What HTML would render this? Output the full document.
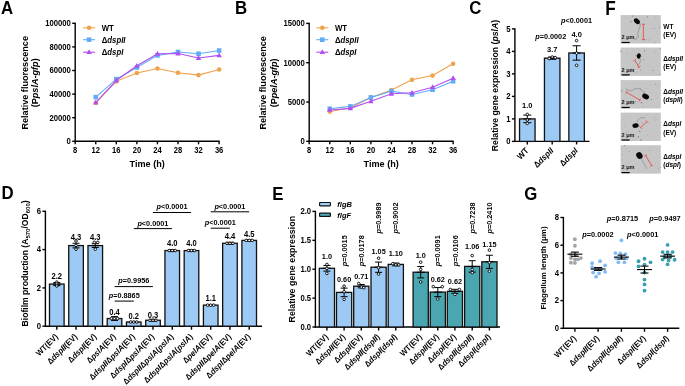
<!DOCTYPE html><html><head><meta charset="utf-8"><style>html,body{margin:0;padding:0;background:#fff;width:685px;height:386px;overflow:hidden}svg{display:block;filter:blur(0.35px)}text{font-family:"Liberation Sans",sans-serif}</style></head><body><svg width="685" height="386" viewBox="0 0 685 386" font-family="Liberation Sans, sans-serif" font-weight="bold">
<rect width="685" height="386" fill="#fff"/>
<line x1="75.20" y1="141.90" x2="75.20" y2="22.70" stroke="#000" stroke-width="1.4"/>
<line x1="74.60" y1="141.30" x2="219.72" y2="141.30" stroke="#000" stroke-width="1.4"/>
<line x1="72.20" y1="141.30" x2="75.20" y2="141.30" stroke="#000" stroke-width="1.4"/>
<text transform="translate(70.90 144.10) scale(1 1.08)" font-size="7.7" text-anchor="end" fill="#000">0</text>
<line x1="72.20" y1="117.70" x2="75.20" y2="117.70" stroke="#000" stroke-width="1.4"/>
<text transform="translate(70.90 120.50) scale(1 1.08)" font-size="7.7" text-anchor="end" fill="#000">20000</text>
<line x1="72.20" y1="94.10" x2="75.20" y2="94.10" stroke="#000" stroke-width="1.4"/>
<text transform="translate(70.90 96.90) scale(1 1.08)" font-size="7.7" text-anchor="end" fill="#000">40000</text>
<line x1="72.20" y1="70.50" x2="75.20" y2="70.50" stroke="#000" stroke-width="1.4"/>
<text transform="translate(70.90 73.30) scale(1 1.08)" font-size="7.7" text-anchor="end" fill="#000">60000</text>
<line x1="72.20" y1="46.90" x2="75.20" y2="46.90" stroke="#000" stroke-width="1.4"/>
<text transform="translate(70.90 49.70) scale(1 1.08)" font-size="7.7" text-anchor="end" fill="#000">80000</text>
<line x1="72.20" y1="23.30" x2="75.20" y2="23.30" stroke="#000" stroke-width="1.4"/>
<text transform="translate(70.90 26.10) scale(1 1.08)" font-size="7.7" text-anchor="end" fill="#000">100000</text>
<line x1="75.20" y1="141.30" x2="75.20" y2="144.30" stroke="#000" stroke-width="1.4"/>
<text transform="translate(75.20 153.20) scale(1 1.08)" font-size="7.6" text-anchor="middle" fill="#000">8</text>
<line x1="95.76" y1="141.30" x2="95.76" y2="144.30" stroke="#000" stroke-width="1.4"/>
<text transform="translate(95.76 153.20) scale(1 1.08)" font-size="7.6" text-anchor="middle" fill="#000">12</text>
<line x1="116.32" y1="141.30" x2="116.32" y2="144.30" stroke="#000" stroke-width="1.4"/>
<text transform="translate(116.32 153.20) scale(1 1.08)" font-size="7.6" text-anchor="middle" fill="#000">16</text>
<line x1="136.88" y1="141.30" x2="136.88" y2="144.30" stroke="#000" stroke-width="1.4"/>
<text transform="translate(136.88 153.20) scale(1 1.08)" font-size="7.6" text-anchor="middle" fill="#000">20</text>
<line x1="157.44" y1="141.30" x2="157.44" y2="144.30" stroke="#000" stroke-width="1.4"/>
<text transform="translate(157.44 153.20) scale(1 1.08)" font-size="7.6" text-anchor="middle" fill="#000">24</text>
<line x1="178.00" y1="141.30" x2="178.00" y2="144.30" stroke="#000" stroke-width="1.4"/>
<text transform="translate(178.00 153.20) scale(1 1.08)" font-size="7.6" text-anchor="middle" fill="#000">28</text>
<line x1="198.56" y1="141.30" x2="198.56" y2="144.30" stroke="#000" stroke-width="1.4"/>
<text transform="translate(198.56 153.20) scale(1 1.08)" font-size="7.6" text-anchor="middle" fill="#000">32</text>
<line x1="219.12" y1="141.30" x2="219.12" y2="144.30" stroke="#000" stroke-width="1.4"/>
<text transform="translate(219.12 153.20) scale(1 1.08)" font-size="7.6" text-anchor="middle" fill="#000">36</text>
<text transform="translate(147.16 166.60) scale(1 1.08)" font-size="9.1" text-anchor="middle" fill="#000">Time (h)</text>
<text transform="translate(1.00 13.60) scale(1 1.13)" font-size="16.8" text-anchor="start" fill="#000">A</text>
<text transform="translate(27.90 82.80) rotate(-90)" font-size="9.1" text-anchor="middle" fill="#000">Relative fluorescence</text>
<text transform="translate(38.20 82.80) rotate(-90)" font-size="9.1" text-anchor="middle" fill="#000">(P<tspan font-style="italic">pslA-gfp</tspan>)</text>
<polyline points="95.76,102.71 116.32,81.36 136.88,72.98 157.44,68.49 178.00,72.74 198.56,75.10 219.12,69.44" fill="none" stroke="#f0a14a" stroke-width="1.1"/>
<circle cx="95.76" cy="102.71" r="2.3" fill="#f0a14a"/>
<circle cx="116.32" cy="81.36" r="2.3" fill="#f0a14a"/>
<circle cx="136.88" cy="72.98" r="2.3" fill="#f0a14a"/>
<circle cx="157.44" cy="68.49" r="2.3" fill="#f0a14a"/>
<circle cx="178.00" cy="72.74" r="2.3" fill="#f0a14a"/>
<circle cx="198.56" cy="75.10" r="2.3" fill="#f0a14a"/>
<circle cx="219.12" cy="69.44" r="2.3" fill="#f0a14a"/>
<polyline points="95.76,97.17 116.32,79.11 136.88,67.55 157.44,55.40 178.00,51.97 198.56,53.74 219.12,50.56" fill="none" stroke="#63abf5" stroke-width="1.1"/>
<rect x="93.46" y="94.87" width="4.6" height="4.6" fill="#63abf5"/>
<rect x="114.02" y="76.81" width="4.6" height="4.6" fill="#63abf5"/>
<rect x="134.58" y="65.25" width="4.6" height="4.6" fill="#63abf5"/>
<rect x="155.14" y="53.10" width="4.6" height="4.6" fill="#63abf5"/>
<rect x="175.70" y="49.67" width="4.6" height="4.6" fill="#63abf5"/>
<rect x="196.26" y="51.44" width="4.6" height="4.6" fill="#63abf5"/>
<rect x="216.82" y="48.26" width="4.6" height="4.6" fill="#63abf5"/>
<polyline points="95.76,102.71 116.32,80.53 136.88,65.78 157.44,53.74 178.00,53.51 198.56,57.99 219.12,55.40" fill="none" stroke="#b14ff0" stroke-width="1.1"/>
<polygon points="95.76,99.81 98.46,104.61 93.06,104.61" fill="#b14ff0"/>
<polygon points="116.32,77.63 119.02,82.43 113.62,82.43" fill="#b14ff0"/>
<polygon points="136.88,62.88 139.58,67.68 134.18,67.68" fill="#b14ff0"/>
<polygon points="157.44,50.84 160.14,55.64 154.74,55.64" fill="#b14ff0"/>
<polygon points="178.00,50.61 180.70,55.41 175.30,55.41" fill="#b14ff0"/>
<polygon points="198.56,55.09 201.26,59.89 195.86,59.89" fill="#b14ff0"/>
<polygon points="219.12,52.50 221.82,57.30 216.42,57.30" fill="#b14ff0"/>
<line x1="83.10" y1="27.80" x2="95.10" y2="27.80" stroke="#f0a14a" stroke-width="1.1"/>
<circle cx="89.10" cy="27.80" r="2.3" fill="#f0a14a"/>
<text transform="translate(101.70 30.70) scale(1 1.08)" font-size="7.8" text-anchor="start" fill="#000">WT</text>
<line x1="83.10" y1="39.70" x2="95.10" y2="39.70" stroke="#63abf5" stroke-width="1.1"/>
<rect x="86.80" y="37.40" width="4.6" height="4.6" fill="#63abf5"/>
<text transform="translate(101.70 42.60) scale(1 1.08)" font-size="7.8" text-anchor="start" fill="#000">Δ<tspan font-style="italic">dspII</tspan></text>
<line x1="83.10" y1="52.20" x2="95.10" y2="52.20" stroke="#b14ff0" stroke-width="1.1"/>
<polygon points="89.10,49.30 91.80,54.10 86.40,54.10" fill="#b14ff0"/>
<text transform="translate(101.70 55.10) scale(1 1.08)" font-size="7.8" text-anchor="start" fill="#000">Δ<tspan font-style="italic">dspI</tspan></text>
<line x1="309.20" y1="141.90" x2="309.20" y2="22.80" stroke="#000" stroke-width="1.4"/>
<line x1="308.60" y1="141.30" x2="453.72" y2="141.30" stroke="#000" stroke-width="1.4"/>
<line x1="306.20" y1="141.30" x2="309.20" y2="141.30" stroke="#000" stroke-width="1.4"/>
<text transform="translate(304.90 144.10) scale(1 1.08)" font-size="7.7" text-anchor="end" fill="#000">0</text>
<line x1="306.20" y1="102.00" x2="309.20" y2="102.00" stroke="#000" stroke-width="1.4"/>
<text transform="translate(304.90 104.80) scale(1 1.08)" font-size="7.7" text-anchor="end" fill="#000">5000</text>
<line x1="306.20" y1="62.70" x2="309.20" y2="62.70" stroke="#000" stroke-width="1.4"/>
<text transform="translate(304.90 65.50) scale(1 1.08)" font-size="7.7" text-anchor="end" fill="#000">10000</text>
<line x1="306.20" y1="23.40" x2="309.20" y2="23.40" stroke="#000" stroke-width="1.4"/>
<text transform="translate(304.90 26.20) scale(1 1.08)" font-size="7.7" text-anchor="end" fill="#000">15000</text>
<line x1="309.20" y1="141.30" x2="309.20" y2="144.30" stroke="#000" stroke-width="1.4"/>
<text transform="translate(309.20 153.20) scale(1 1.08)" font-size="7.6" text-anchor="middle" fill="#000">8</text>
<line x1="329.76" y1="141.30" x2="329.76" y2="144.30" stroke="#000" stroke-width="1.4"/>
<text transform="translate(329.76 153.20) scale(1 1.08)" font-size="7.6" text-anchor="middle" fill="#000">12</text>
<line x1="350.32" y1="141.30" x2="350.32" y2="144.30" stroke="#000" stroke-width="1.4"/>
<text transform="translate(350.32 153.20) scale(1 1.08)" font-size="7.6" text-anchor="middle" fill="#000">16</text>
<line x1="370.88" y1="141.30" x2="370.88" y2="144.30" stroke="#000" stroke-width="1.4"/>
<text transform="translate(370.88 153.20) scale(1 1.08)" font-size="7.6" text-anchor="middle" fill="#000">20</text>
<line x1="391.44" y1="141.30" x2="391.44" y2="144.30" stroke="#000" stroke-width="1.4"/>
<text transform="translate(391.44 153.20) scale(1 1.08)" font-size="7.6" text-anchor="middle" fill="#000">24</text>
<line x1="412.00" y1="141.30" x2="412.00" y2="144.30" stroke="#000" stroke-width="1.4"/>
<text transform="translate(412.00 153.20) scale(1 1.08)" font-size="7.6" text-anchor="middle" fill="#000">28</text>
<line x1="432.56" y1="141.30" x2="432.56" y2="144.30" stroke="#000" stroke-width="1.4"/>
<text transform="translate(432.56 153.20) scale(1 1.08)" font-size="7.6" text-anchor="middle" fill="#000">32</text>
<line x1="453.12" y1="141.30" x2="453.12" y2="144.30" stroke="#000" stroke-width="1.4"/>
<text transform="translate(453.12 153.20) scale(1 1.08)" font-size="7.6" text-anchor="middle" fill="#000">36</text>
<text transform="translate(381.16 166.60) scale(1 1.08)" font-size="9.1" text-anchor="middle" fill="#000">Time (h)</text>
<text transform="translate(235.00 13.60) scale(1 1.13)" font-size="16.8" text-anchor="start" fill="#000">B</text>
<text transform="translate(266.30 82.85) rotate(-90)" font-size="9.1" text-anchor="middle" fill="#000">Relative fluorescence</text>
<text transform="translate(277.10 82.85) rotate(-90)" font-size="9.1" text-anchor="middle" fill="#000">(P<tspan font-style="italic">pelA-gfp</tspan>)</text>
<polyline points="329.76,111.58 350.32,108.04 370.88,97.43 391.44,89.97 412.00,79.83 432.56,75.58 453.12,63.79" fill="none" stroke="#f0a14a" stroke-width="1.1"/>
<circle cx="329.76" cy="111.58" r="2.3" fill="#f0a14a"/>
<circle cx="350.32" cy="108.04" r="2.3" fill="#f0a14a"/>
<circle cx="370.88" cy="97.43" r="2.3" fill="#f0a14a"/>
<circle cx="391.44" cy="89.97" r="2.3" fill="#f0a14a"/>
<circle cx="412.00" cy="79.83" r="2.3" fill="#f0a14a"/>
<circle cx="432.56" cy="75.58" r="2.3" fill="#f0a14a"/>
<circle cx="453.12" cy="63.79" r="2.3" fill="#f0a14a"/>
<polyline points="329.76,108.75 350.32,106.39 370.88,97.43 391.44,91.15 412.00,94.45 432.56,89.73 453.12,81.24" fill="none" stroke="#63abf5" stroke-width="1.1"/>
<rect x="327.46" y="106.45" width="4.6" height="4.6" fill="#63abf5"/>
<rect x="348.02" y="104.09" width="4.6" height="4.6" fill="#63abf5"/>
<rect x="368.58" y="95.13" width="4.6" height="4.6" fill="#63abf5"/>
<rect x="389.14" y="88.85" width="4.6" height="4.6" fill="#63abf5"/>
<rect x="409.70" y="92.15" width="4.6" height="4.6" fill="#63abf5"/>
<rect x="430.26" y="87.43" width="4.6" height="4.6" fill="#63abf5"/>
<rect x="450.82" y="78.94" width="4.6" height="4.6" fill="#63abf5"/>
<polyline points="329.76,109.93 350.32,108.36 370.88,101.29 391.44,93.74 412.00,92.80 432.56,87.22 453.12,78.18" fill="none" stroke="#b14ff0" stroke-width="1.1"/>
<polygon points="329.76,107.03 332.46,111.83 327.06,111.83" fill="#b14ff0"/>
<polygon points="350.32,105.46 353.02,110.26 347.62,110.26" fill="#b14ff0"/>
<polygon points="370.88,98.39 373.58,103.19 368.18,103.19" fill="#b14ff0"/>
<polygon points="391.44,90.84 394.14,95.64 388.74,95.64" fill="#b14ff0"/>
<polygon points="412.00,89.90 414.70,94.70 409.30,94.70" fill="#b14ff0"/>
<polygon points="432.56,84.32 435.26,89.12 429.86,89.12" fill="#b14ff0"/>
<polygon points="453.12,75.28 455.82,80.08 450.42,80.08" fill="#b14ff0"/>
<line x1="316.30" y1="27.80" x2="328.30" y2="27.80" stroke="#f0a14a" stroke-width="1.1"/>
<circle cx="322.30" cy="27.80" r="2.3" fill="#f0a14a"/>
<text transform="translate(334.90 30.70) scale(1 1.08)" font-size="7.8" text-anchor="start" fill="#000">WT</text>
<line x1="316.30" y1="39.70" x2="328.30" y2="39.70" stroke="#63abf5" stroke-width="1.1"/>
<rect x="320.00" y="37.40" width="4.6" height="4.6" fill="#63abf5"/>
<text transform="translate(334.90 42.60) scale(1 1.08)" font-size="7.8" text-anchor="start" fill="#000">Δ<tspan font-style="italic">dspII</tspan></text>
<line x1="316.30" y1="52.20" x2="328.30" y2="52.20" stroke="#b14ff0" stroke-width="1.1"/>
<polygon points="322.30,49.30 325.00,54.10 319.60,54.10" fill="#b14ff0"/>
<text transform="translate(334.90 55.10) scale(1 1.08)" font-size="7.8" text-anchor="start" fill="#000">Δ<tspan font-style="italic">dspI</tspan></text>
<line x1="514.90" y1="142.00" x2="514.90" y2="28.30" stroke="#000" stroke-width="1.4"/>
<line x1="514.30" y1="141.40" x2="589.50" y2="141.40" stroke="#000" stroke-width="1.4"/>
<line x1="511.90" y1="141.40" x2="514.90" y2="141.40" stroke="#000" stroke-width="1.4"/>
<text transform="translate(510.60 144.20) scale(1 1.08)" font-size="7.7" text-anchor="end" fill="#000">0</text>
<line x1="511.90" y1="118.90" x2="514.90" y2="118.90" stroke="#000" stroke-width="1.4"/>
<text transform="translate(510.60 121.70) scale(1 1.08)" font-size="7.7" text-anchor="end" fill="#000">1</text>
<line x1="511.90" y1="96.40" x2="514.90" y2="96.40" stroke="#000" stroke-width="1.4"/>
<text transform="translate(510.60 99.20) scale(1 1.08)" font-size="7.7" text-anchor="end" fill="#000">2</text>
<line x1="511.90" y1="73.90" x2="514.90" y2="73.90" stroke="#000" stroke-width="1.4"/>
<text transform="translate(510.60 76.70) scale(1 1.08)" font-size="7.7" text-anchor="end" fill="#000">3</text>
<line x1="511.90" y1="51.40" x2="514.90" y2="51.40" stroke="#000" stroke-width="1.4"/>
<text transform="translate(510.60 54.20) scale(1 1.08)" font-size="7.7" text-anchor="end" fill="#000">4</text>
<line x1="511.90" y1="28.90" x2="514.90" y2="28.90" stroke="#000" stroke-width="1.4"/>
<text transform="translate(510.60 31.70) scale(1 1.08)" font-size="7.7" text-anchor="end" fill="#000">5</text>
<text transform="translate(469.30 13.60) scale(1 1.13)" font-size="16.8" text-anchor="start" fill="#000">C</text>
<text transform="translate(497.60 85.50) rotate(-90)" font-size="8.7" text-anchor="middle" fill="#000">Relative gene expression (<tspan font-style="italic">pslA</tspan>)</text>
<rect x="519.55" y="118.90" width="15.50" height="22.50" fill="#9dc9f5" stroke="#111" stroke-width="1.3"/>
<line x1="527.30" y1="115.08" x2="527.30" y2="122.73" stroke="#000" stroke-width="1.0"/>
<line x1="523.30" y1="115.08" x2="531.30" y2="115.08" stroke="#000" stroke-width="1.0"/>
<line x1="523.30" y1="122.73" x2="531.30" y2="122.73" stroke="#000" stroke-width="1.0"/>
<line x1="523.30" y1="118.90" x2="531.30" y2="118.90" stroke="#000" stroke-width="1.0"/>
<circle cx="527.30" cy="114.40" r="1.3" fill="#fff" stroke="#000" stroke-width="0.9"/>
<circle cx="527.30" cy="120.03" r="1.3" fill="#fff" stroke="#000" stroke-width="0.9"/>
<circle cx="527.30" cy="123.40" r="1.3" fill="#fff" stroke="#000" stroke-width="0.9"/>
<line x1="527.30" y1="141.40" x2="527.30" y2="144.40" stroke="#000" stroke-width="1.4"/>
<text transform="translate(527.30 108.00) scale(1 1.08)" font-size="7.5" text-anchor="middle" fill="#000">1.0</text>
<rect x="544.45" y="58.15" width="15.50" height="83.25" fill="#9dc9f5" stroke="#111" stroke-width="1.3"/>
<line x1="552.20" y1="57.03" x2="552.20" y2="59.27" stroke="#000" stroke-width="1.0"/>
<line x1="548.20" y1="57.03" x2="556.20" y2="57.03" stroke="#000" stroke-width="1.0"/>
<line x1="548.20" y1="59.27" x2="556.20" y2="59.27" stroke="#000" stroke-width="1.0"/>
<line x1="548.20" y1="58.15" x2="556.20" y2="58.15" stroke="#000" stroke-width="1.0"/>
<circle cx="549.20" cy="58.60" r="1.3" fill="#fff" stroke="#000" stroke-width="0.9"/>
<circle cx="552.20" cy="57.03" r="1.3" fill="#fff" stroke="#000" stroke-width="0.9"/>
<circle cx="555.20" cy="57.70" r="1.3" fill="#fff" stroke="#000" stroke-width="0.9"/>
<line x1="552.20" y1="141.40" x2="552.20" y2="144.40" stroke="#000" stroke-width="1.4"/>
<text transform="translate(552.20 51.60) scale(1 1.08)" font-size="7.5" text-anchor="middle" fill="#000">3.7</text>
<rect x="568.85" y="52.98" width="15.50" height="88.42" fill="#9dc9f5" stroke="#111" stroke-width="1.3"/>
<line x1="576.60" y1="45.78" x2="576.60" y2="60.17" stroke="#000" stroke-width="1.0"/>
<line x1="572.60" y1="45.78" x2="580.60" y2="45.78" stroke="#000" stroke-width="1.0"/>
<line x1="572.60" y1="60.17" x2="580.60" y2="60.17" stroke="#000" stroke-width="1.0"/>
<line x1="572.60" y1="52.98" x2="580.60" y2="52.98" stroke="#000" stroke-width="1.0"/>
<circle cx="576.60" cy="40.60" r="1.3" fill="#fff" stroke="#000" stroke-width="0.9"/>
<circle cx="576.60" cy="53.20" r="1.3" fill="#fff" stroke="#000" stroke-width="0.9"/>
<circle cx="576.60" cy="65.35" r="1.3" fill="#fff" stroke="#000" stroke-width="0.9"/>
<line x1="576.60" y1="141.40" x2="576.60" y2="144.40" stroke="#000" stroke-width="1.4"/>
<text transform="translate(576.60 37.20) scale(1 1.08)" font-size="7.5" text-anchor="middle" fill="#000">4.0</text>
<text transform="translate(535.20 38.50) scale(1 1.08)" font-size="7.3" text-anchor="start" fill="#000"><tspan font-style="italic">p</tspan>=0.0002</text>
<text transform="translate(561.00 23.00) scale(1 1.08)" font-size="7.3" text-anchor="start" fill="#000"><tspan font-style="italic">p</tspan>&lt;0.0001</text>
<text transform="translate(529.10 151.20) rotate(-45) scale(1 1.08)" font-size="7.9" text-anchor="end" fill="#000">WT</text>
<text transform="translate(554.00 151.20) rotate(-45) scale(1 1.08)" font-size="7.9" text-anchor="end" fill="#000">Δ<tspan font-style="italic">dspII</tspan></text>
<text transform="translate(578.40 151.20) rotate(-45) scale(1 1.08)" font-size="7.9" text-anchor="end" fill="#000">Δ<tspan font-style="italic">dspI</tspan></text>
<line x1="45.40" y1="326.80" x2="45.40" y2="210.70" stroke="#000" stroke-width="1.4"/>
<line x1="44.80" y1="326.20" x2="262.00" y2="326.20" stroke="#000" stroke-width="1.4"/>
<line x1="42.40" y1="326.20" x2="45.40" y2="326.20" stroke="#000" stroke-width="1.4"/>
<text transform="translate(41.10 329.00) scale(1 1.08)" font-size="7.7" text-anchor="end" fill="#000">0</text>
<line x1="42.40" y1="287.90" x2="45.40" y2="287.90" stroke="#000" stroke-width="1.4"/>
<text transform="translate(41.10 290.70) scale(1 1.08)" font-size="7.7" text-anchor="end" fill="#000">2</text>
<line x1="42.40" y1="249.60" x2="45.40" y2="249.60" stroke="#000" stroke-width="1.4"/>
<text transform="translate(41.10 252.40) scale(1 1.08)" font-size="7.7" text-anchor="end" fill="#000">4</text>
<line x1="42.40" y1="211.30" x2="45.40" y2="211.30" stroke="#000" stroke-width="1.4"/>
<text transform="translate(41.10 214.10) scale(1 1.08)" font-size="7.7" text-anchor="end" fill="#000">6</text>
<text transform="translate(1.60 199.30) scale(1 1.13)" font-size="16.8" text-anchor="start" fill="#000">D</text>
<text transform="translate(27.60 263.40) rotate(-90)" font-size="8.6" text-anchor="middle" fill="#000">Biofilm production (A<tspan font-size="6" dy="2.2">570</tspan><tspan dy="-2.2">/OD</tspan><tspan font-size="6" dy="2.2">600</tspan><tspan dy="-2.2">)</tspan></text>
<rect x="49.50" y="284.07" width="14.60" height="42.13" fill="#9dc9f5" stroke="#111" stroke-width="1.3"/>
<line x1="56.80" y1="282.54" x2="56.80" y2="285.60" stroke="#000" stroke-width="1.0"/>
<line x1="53.30" y1="282.54" x2="60.30" y2="282.54" stroke="#000" stroke-width="1.0"/>
<line x1="53.30" y1="285.60" x2="60.30" y2="285.60" stroke="#000" stroke-width="1.0"/>
<line x1="52.80" y1="284.07" x2="60.80" y2="284.07" stroke="#000" stroke-width="1.0"/>
<circle cx="56.80" cy="282.15" r="1.3" fill="#fff" stroke="#000" stroke-width="0.9"/>
<circle cx="56.80" cy="284.07" r="1.3" fill="#fff" stroke="#000" stroke-width="0.9"/>
<circle cx="56.80" cy="285.99" r="1.3" fill="#fff" stroke="#000" stroke-width="0.9"/>
<line x1="56.80" y1="326.20" x2="56.80" y2="329.70" stroke="#000" stroke-width="1.4"/>
<text transform="translate(56.80 279.27) scale(1 1.08)" font-size="7.6" text-anchor="middle" fill="#000">2.2</text>
<text transform="translate(58.60 337.30) rotate(-45) scale(1 1.08)" font-size="7.7" text-anchor="end" fill="#000">WT(EV)</text>
<rect x="68.74" y="245.58" width="14.60" height="80.62" fill="#9dc9f5" stroke="#111" stroke-width="1.3"/>
<line x1="76.04" y1="243.28" x2="76.04" y2="247.88" stroke="#000" stroke-width="1.0"/>
<line x1="72.54" y1="243.28" x2="79.54" y2="243.28" stroke="#000" stroke-width="1.0"/>
<line x1="72.54" y1="247.88" x2="79.54" y2="247.88" stroke="#000" stroke-width="1.0"/>
<line x1="72.04" y1="245.58" x2="80.04" y2="245.58" stroke="#000" stroke-width="1.0"/>
<circle cx="76.04" cy="240.98" r="1.3" fill="#fff" stroke="#000" stroke-width="0.9"/>
<circle cx="76.04" cy="245.39" r="1.3" fill="#fff" stroke="#000" stroke-width="0.9"/>
<circle cx="76.04" cy="249.22" r="1.3" fill="#fff" stroke="#000" stroke-width="0.9"/>
<line x1="76.04" y1="326.20" x2="76.04" y2="329.70" stroke="#000" stroke-width="1.4"/>
<text transform="translate(76.04 239.88) scale(1 1.08)" font-size="7.6" text-anchor="middle" fill="#000">4.3</text>
<text transform="translate(77.84 337.30) rotate(-45) scale(1 1.08)" font-size="7.7" text-anchor="end" fill="#000">Δ<tspan font-style="italic">dspII</tspan>(EV)</text>
<rect x="87.98" y="245.58" width="14.60" height="80.62" fill="#9dc9f5" stroke="#111" stroke-width="1.3"/>
<line x1="95.28" y1="243.66" x2="95.28" y2="247.49" stroke="#000" stroke-width="1.0"/>
<line x1="91.78" y1="243.66" x2="98.78" y2="243.66" stroke="#000" stroke-width="1.0"/>
<line x1="91.78" y1="247.49" x2="98.78" y2="247.49" stroke="#000" stroke-width="1.0"/>
<line x1="91.28" y1="245.58" x2="99.28" y2="245.58" stroke="#000" stroke-width="1.0"/>
<circle cx="94.28" cy="242.32" r="1.3" fill="#fff" stroke="#000" stroke-width="0.9"/>
<circle cx="97.78" cy="242.32" r="1.3" fill="#fff" stroke="#000" stroke-width="0.9"/>
<circle cx="95.28" cy="249.22" r="1.3" fill="#fff" stroke="#000" stroke-width="0.9"/>
<line x1="95.28" y1="326.20" x2="95.28" y2="329.70" stroke="#000" stroke-width="1.4"/>
<text transform="translate(95.28 239.88) scale(1 1.08)" font-size="7.6" text-anchor="middle" fill="#000">4.3</text>
<text transform="translate(97.08 337.30) rotate(-45) scale(1 1.08)" font-size="7.7" text-anchor="end" fill="#000">Δ<tspan font-style="italic">dspI</tspan>(EV)</text>
<rect x="107.22" y="318.54" width="14.60" height="7.66" fill="#9dc9f5" stroke="#111" stroke-width="1.3"/>
<line x1="114.52" y1="316.62" x2="114.52" y2="320.45" stroke="#000" stroke-width="1.0"/>
<line x1="111.02" y1="316.62" x2="118.02" y2="316.62" stroke="#000" stroke-width="1.0"/>
<line x1="111.02" y1="320.45" x2="118.02" y2="320.45" stroke="#000" stroke-width="1.0"/>
<line x1="110.52" y1="318.54" x2="118.52" y2="318.54" stroke="#000" stroke-width="1.0"/>
<circle cx="111.52" cy="318.54" r="1.3" fill="#fff" stroke="#000" stroke-width="0.9"/>
<circle cx="114.52" cy="318.54" r="1.3" fill="#fff" stroke="#000" stroke-width="0.9"/>
<circle cx="117.52" cy="318.54" r="1.3" fill="#fff" stroke="#000" stroke-width="0.9"/>
<line x1="114.52" y1="326.20" x2="114.52" y2="329.70" stroke="#000" stroke-width="1.4"/>
<text transform="translate(114.52 314.84) scale(1 1.08)" font-size="7.6" text-anchor="middle" fill="#000">0.4</text>
<text transform="translate(116.32 337.30) rotate(-45) scale(1 1.08)" font-size="7.7" text-anchor="end" fill="#000">Δ<tspan font-style="italic">pslA</tspan>(EV)</text>
<rect x="126.46" y="321.99" width="14.60" height="4.21" fill="#9dc9f5" stroke="#111" stroke-width="1.3"/>
<line x1="133.76" y1="321.41" x2="133.76" y2="322.56" stroke="#000" stroke-width="1.0"/>
<line x1="130.26" y1="321.41" x2="137.26" y2="321.41" stroke="#000" stroke-width="1.0"/>
<line x1="130.26" y1="322.56" x2="137.26" y2="322.56" stroke="#000" stroke-width="1.0"/>
<line x1="129.76" y1="321.99" x2="137.76" y2="321.99" stroke="#000" stroke-width="1.0"/>
<circle cx="130.76" cy="321.99" r="1.3" fill="#fff" stroke="#000" stroke-width="0.9"/>
<circle cx="133.76" cy="321.99" r="1.3" fill="#fff" stroke="#000" stroke-width="0.9"/>
<circle cx="136.76" cy="321.99" r="1.3" fill="#fff" stroke="#000" stroke-width="0.9"/>
<line x1="133.76" y1="326.20" x2="133.76" y2="329.70" stroke="#000" stroke-width="1.4"/>
<text transform="translate(133.76 319.29) scale(1 1.08)" font-size="7.6" text-anchor="middle" fill="#000">0.2</text>
<text transform="translate(135.56 337.30) rotate(-45) scale(1 1.08)" font-size="7.7" text-anchor="end" fill="#000">Δ<tspan font-style="italic">dspII</tspan>Δ<tspan font-style="italic">pslA</tspan>(EV)</text>
<rect x="145.70" y="320.26" width="14.60" height="5.94" fill="#9dc9f5" stroke="#111" stroke-width="1.3"/>
<line x1="153.00" y1="319.31" x2="153.00" y2="321.22" stroke="#000" stroke-width="1.0"/>
<line x1="149.50" y1="319.31" x2="156.50" y2="319.31" stroke="#000" stroke-width="1.0"/>
<line x1="149.50" y1="321.22" x2="156.50" y2="321.22" stroke="#000" stroke-width="1.0"/>
<line x1="149.00" y1="320.26" x2="157.00" y2="320.26" stroke="#000" stroke-width="1.0"/>
<circle cx="150.00" cy="320.26" r="1.3" fill="#fff" stroke="#000" stroke-width="0.9"/>
<circle cx="153.00" cy="320.26" r="1.3" fill="#fff" stroke="#000" stroke-width="0.9"/>
<circle cx="156.00" cy="320.26" r="1.3" fill="#fff" stroke="#000" stroke-width="0.9"/>
<line x1="153.00" y1="326.20" x2="153.00" y2="329.70" stroke="#000" stroke-width="1.4"/>
<text transform="translate(153.00 317.86) scale(1 1.08)" font-size="7.6" text-anchor="middle" fill="#000">0.3</text>
<text transform="translate(154.80 337.30) rotate(-45) scale(1 1.08)" font-size="7.7" text-anchor="end" fill="#000">Δ<tspan font-style="italic">dspI</tspan>Δ<tspan font-style="italic">pslA</tspan>(EV)</text>
<rect x="164.94" y="250.56" width="14.60" height="75.64" fill="#9dc9f5" stroke="#111" stroke-width="1.3"/>
<line x1="172.24" y1="249.60" x2="172.24" y2="251.51" stroke="#000" stroke-width="1.0"/>
<line x1="168.74" y1="249.60" x2="175.74" y2="249.60" stroke="#000" stroke-width="1.0"/>
<line x1="168.74" y1="251.51" x2="175.74" y2="251.51" stroke="#000" stroke-width="1.0"/>
<line x1="168.24" y1="250.56" x2="176.24" y2="250.56" stroke="#000" stroke-width="1.0"/>
<circle cx="169.24" cy="250.56" r="1.3" fill="#fff" stroke="#000" stroke-width="0.9"/>
<circle cx="172.24" cy="250.56" r="1.3" fill="#fff" stroke="#000" stroke-width="0.9"/>
<circle cx="175.24" cy="250.56" r="1.3" fill="#fff" stroke="#000" stroke-width="0.9"/>
<line x1="172.24" y1="326.20" x2="172.24" y2="329.70" stroke="#000" stroke-width="1.4"/>
<text transform="translate(172.24 245.86) scale(1 1.08)" font-size="7.6" text-anchor="middle" fill="#000">4.0</text>
<text transform="translate(174.04 337.30) rotate(-45) scale(1 1.08)" font-size="7.7" text-anchor="end" fill="#000">Δ<tspan font-style="italic">dspII</tspan>Δ<tspan font-style="italic">pslA</tspan>(<tspan font-style="italic">pslA</tspan>)</text>
<rect x="184.18" y="250.56" width="14.60" height="75.64" fill="#9dc9f5" stroke="#111" stroke-width="1.3"/>
<line x1="191.48" y1="249.60" x2="191.48" y2="251.51" stroke="#000" stroke-width="1.0"/>
<line x1="187.98" y1="249.60" x2="194.98" y2="249.60" stroke="#000" stroke-width="1.0"/>
<line x1="187.98" y1="251.51" x2="194.98" y2="251.51" stroke="#000" stroke-width="1.0"/>
<line x1="187.48" y1="250.56" x2="195.48" y2="250.56" stroke="#000" stroke-width="1.0"/>
<circle cx="188.48" cy="250.56" r="1.3" fill="#fff" stroke="#000" stroke-width="0.9"/>
<circle cx="191.48" cy="250.56" r="1.3" fill="#fff" stroke="#000" stroke-width="0.9"/>
<circle cx="194.48" cy="250.56" r="1.3" fill="#fff" stroke="#000" stroke-width="0.9"/>
<line x1="191.48" y1="326.20" x2="191.48" y2="329.70" stroke="#000" stroke-width="1.4"/>
<text transform="translate(191.48 245.86) scale(1 1.08)" font-size="7.6" text-anchor="middle" fill="#000">4.0</text>
<text transform="translate(193.28 337.30) rotate(-45) scale(1 1.08)" font-size="7.7" text-anchor="end" fill="#000">Δ<tspan font-style="italic">dspI</tspan>Δ<tspan font-style="italic">pslA</tspan>(<tspan font-style="italic">pslA</tspan>)</text>
<rect x="203.42" y="305.13" width="14.60" height="21.06" fill="#9dc9f5" stroke="#111" stroke-width="1.3"/>
<line x1="210.72" y1="304.56" x2="210.72" y2="305.71" stroke="#000" stroke-width="1.0"/>
<line x1="207.22" y1="304.56" x2="214.22" y2="304.56" stroke="#000" stroke-width="1.0"/>
<line x1="207.22" y1="305.71" x2="214.22" y2="305.71" stroke="#000" stroke-width="1.0"/>
<line x1="206.72" y1="305.13" x2="214.72" y2="305.13" stroke="#000" stroke-width="1.0"/>
<circle cx="207.72" cy="305.13" r="1.3" fill="#fff" stroke="#000" stroke-width="0.9"/>
<circle cx="210.72" cy="305.13" r="1.3" fill="#fff" stroke="#000" stroke-width="0.9"/>
<circle cx="213.72" cy="305.13" r="1.3" fill="#fff" stroke="#000" stroke-width="0.9"/>
<line x1="210.72" y1="326.20" x2="210.72" y2="329.70" stroke="#000" stroke-width="1.4"/>
<text transform="translate(210.72 301.13) scale(1 1.08)" font-size="7.6" text-anchor="middle" fill="#000">1.1</text>
<text transform="translate(212.52 337.30) rotate(-45) scale(1 1.08)" font-size="7.7" text-anchor="end" fill="#000">Δ<tspan font-style="italic">pelA</tspan>(EV)</text>
<rect x="222.66" y="243.28" width="14.60" height="82.92" fill="#9dc9f5" stroke="#111" stroke-width="1.3"/>
<line x1="229.96" y1="242.32" x2="229.96" y2="244.24" stroke="#000" stroke-width="1.0"/>
<line x1="226.46" y1="242.32" x2="233.46" y2="242.32" stroke="#000" stroke-width="1.0"/>
<line x1="226.46" y1="244.24" x2="233.46" y2="244.24" stroke="#000" stroke-width="1.0"/>
<line x1="225.96" y1="243.28" x2="233.96" y2="243.28" stroke="#000" stroke-width="1.0"/>
<circle cx="226.96" cy="243.28" r="1.3" fill="#fff" stroke="#000" stroke-width="0.9"/>
<circle cx="229.96" cy="243.28" r="1.3" fill="#fff" stroke="#000" stroke-width="0.9"/>
<circle cx="232.96" cy="243.28" r="1.3" fill="#fff" stroke="#000" stroke-width="0.9"/>
<line x1="229.96" y1="326.20" x2="229.96" y2="329.70" stroke="#000" stroke-width="1.4"/>
<text transform="translate(229.96 238.88) scale(1 1.08)" font-size="7.6" text-anchor="middle" fill="#000">4.4</text>
<text transform="translate(231.76 337.30) rotate(-45) scale(1 1.08)" font-size="7.7" text-anchor="end" fill="#000">Δ<tspan font-style="italic">dspII</tspan>Δ<tspan font-style="italic">pelA</tspan>(EV)</text>
<rect x="241.90" y="240.41" width="14.60" height="85.79" fill="#9dc9f5" stroke="#111" stroke-width="1.3"/>
<line x1="249.20" y1="239.64" x2="249.20" y2="241.17" stroke="#000" stroke-width="1.0"/>
<line x1="245.70" y1="239.64" x2="252.70" y2="239.64" stroke="#000" stroke-width="1.0"/>
<line x1="245.70" y1="241.17" x2="252.70" y2="241.17" stroke="#000" stroke-width="1.0"/>
<line x1="245.20" y1="240.41" x2="253.20" y2="240.41" stroke="#000" stroke-width="1.0"/>
<circle cx="246.20" cy="240.41" r="1.3" fill="#fff" stroke="#000" stroke-width="0.9"/>
<circle cx="249.20" cy="240.41" r="1.3" fill="#fff" stroke="#000" stroke-width="0.9"/>
<circle cx="252.20" cy="240.41" r="1.3" fill="#fff" stroke="#000" stroke-width="0.9"/>
<line x1="249.20" y1="326.20" x2="249.20" y2="329.70" stroke="#000" stroke-width="1.4"/>
<text transform="translate(249.20 237.11) scale(1 1.08)" font-size="7.6" text-anchor="middle" fill="#000">4.5</text>
<text transform="translate(251.00 337.30) rotate(-45) scale(1 1.08)" font-size="7.7" text-anchor="end" fill="#000">Δ<tspan font-style="italic">dspI</tspan>Δ<tspan font-style="italic">pelA</tspan>(EV)</text>
<line x1="114.60" y1="301.10" x2="133.80" y2="301.10" stroke="#000" stroke-width="1.0"/>
<text transform="translate(124.20 297.50) scale(1 1.08)" font-size="7.3" text-anchor="middle" fill="#000"><tspan font-style="italic">p</tspan>=0.8865</text>
<line x1="114.60" y1="286.60" x2="152.90" y2="286.60" stroke="#000" stroke-width="1.0"/>
<text transform="translate(133.80 282.50) scale(1 1.08)" font-size="7.3" text-anchor="middle" fill="#000"><tspan font-style="italic">p</tspan>=0.9956</text>
<line x1="133.80" y1="228.60" x2="171.90" y2="228.60" stroke="#000" stroke-width="1.0"/>
<text transform="translate(152.90 225.50) scale(1 1.08)" font-size="7.3" text-anchor="middle" fill="#000"><tspan font-style="italic">p</tspan>&lt;0.0001</text>
<line x1="152.90" y1="212.50" x2="191.10" y2="212.50" stroke="#000" stroke-width="1.0"/>
<text transform="translate(172.00 209.00) scale(1 1.08)" font-size="7.3" text-anchor="middle" fill="#000"><tspan font-style="italic">p</tspan>&lt;0.0001</text>
<line x1="210.70" y1="228.20" x2="229.90" y2="228.20" stroke="#000" stroke-width="1.0"/>
<text transform="translate(220.30 224.80) scale(1 1.08)" font-size="7.3" text-anchor="middle" fill="#000"><tspan font-style="italic">p</tspan>&lt;0.0001</text>
<line x1="210.70" y1="211.80" x2="249.20" y2="211.80" stroke="#000" stroke-width="1.0"/>
<text transform="translate(229.90 208.50) scale(1 1.08)" font-size="7.3" text-anchor="middle" fill="#000"><tspan font-style="italic">p</tspan>&lt;0.0001</text>
<line x1="315.40" y1="327.60" x2="315.40" y2="210.80" stroke="#000" stroke-width="1.4"/>
<line x1="314.80" y1="327.00" x2="500.00" y2="327.00" stroke="#000" stroke-width="1.4"/>
<line x1="312.40" y1="327.00" x2="315.40" y2="327.00" stroke="#000" stroke-width="1.4"/>
<text transform="translate(311.10 329.80) scale(1 1.08)" font-size="7.7" text-anchor="end" fill="#000">0.0</text>
<line x1="312.40" y1="298.10" x2="315.40" y2="298.10" stroke="#000" stroke-width="1.4"/>
<text transform="translate(311.10 300.90) scale(1 1.08)" font-size="7.7" text-anchor="end" fill="#000">0.5</text>
<line x1="312.40" y1="269.20" x2="315.40" y2="269.20" stroke="#000" stroke-width="1.4"/>
<text transform="translate(311.10 272.00) scale(1 1.08)" font-size="7.7" text-anchor="end" fill="#000">1.0</text>
<line x1="312.40" y1="240.30" x2="315.40" y2="240.30" stroke="#000" stroke-width="1.4"/>
<text transform="translate(311.10 243.10) scale(1 1.08)" font-size="7.7" text-anchor="end" fill="#000">1.5</text>
<line x1="312.40" y1="211.40" x2="315.40" y2="211.40" stroke="#000" stroke-width="1.4"/>
<text transform="translate(311.10 214.20) scale(1 1.08)" font-size="7.7" text-anchor="end" fill="#000">2.0</text>
<text transform="translate(272.20 199.80) scale(1 1.13)" font-size="16.8" text-anchor="start" fill="#000">E</text>
<text transform="translate(294.50 269.20) rotate(-90)" font-size="8.9" text-anchor="middle" fill="#000">Relative gene expression</text>
<rect x="319.6" y="202.5" width="10.8" height="3.3" rx="0.5" fill="#a6d2f8" stroke="#111" stroke-width="1.2"/>
<rect x="319.6" y="213.1" width="10.8" height="3.3" rx="0.5" fill="#4fb0bc" stroke="#111" stroke-width="1.2"/>
<text transform="translate(337.30 206.80) scale(1 1.08)" font-size="7.5" text-anchor="start" fill="#000"><tspan font-style="italic">flgB</tspan></text>
<text transform="translate(337.30 217.70) scale(1 1.08)" font-size="7.5" text-anchor="start" fill="#000"><tspan font-style="italic">flgF</tspan></text>
<rect x="319.30" y="268.29" width="15.20" height="58.71" fill="#9dc9f5" stroke="#111" stroke-width="1.3"/>
<line x1="326.90" y1="265.44" x2="326.90" y2="271.14" stroke="#000" stroke-width="1.0"/>
<line x1="323.40" y1="265.44" x2="330.40" y2="265.44" stroke="#000" stroke-width="1.0"/>
<line x1="323.40" y1="271.14" x2="330.40" y2="271.14" stroke="#000" stroke-width="1.0"/>
<line x1="322.90" y1="268.29" x2="330.90" y2="268.29" stroke="#000" stroke-width="1.0"/>
<circle cx="326.90" cy="264.41" r="1.3" fill="#fff" stroke="#000" stroke-width="0.9"/>
<circle cx="326.90" cy="268.29" r="1.3" fill="#fff" stroke="#000" stroke-width="0.9"/>
<circle cx="326.90" cy="273.42" r="1.3" fill="#fff" stroke="#000" stroke-width="0.9"/>
<line x1="326.90" y1="327.00" x2="326.90" y2="330.50" stroke="#000" stroke-width="1.4"/>
<text transform="translate(326.90 259.00) scale(1 1.08)" font-size="7.3" text-anchor="middle" fill="#000">1.0</text>
<text transform="translate(328.70 337.50) rotate(-45) scale(1 1.08)" font-size="7.7" text-anchor="end" fill="#000">WT(EV)</text>
<rect x="336.50" y="292.40" width="15.20" height="34.60" fill="#9dc9f5" stroke="#111" stroke-width="1.3"/>
<line x1="344.10" y1="288.13" x2="344.10" y2="296.68" stroke="#000" stroke-width="1.0"/>
<line x1="340.60" y1="288.13" x2="347.60" y2="288.13" stroke="#000" stroke-width="1.0"/>
<line x1="340.60" y1="296.68" x2="347.60" y2="296.68" stroke="#000" stroke-width="1.0"/>
<line x1="340.10" y1="292.40" x2="348.10" y2="292.40" stroke="#000" stroke-width="1.0"/>
<circle cx="344.10" cy="286.19" r="1.3" fill="#fff" stroke="#000" stroke-width="0.9"/>
<circle cx="344.10" cy="291.66" r="1.3" fill="#fff" stroke="#000" stroke-width="0.9"/>
<circle cx="344.10" cy="299.41" r="1.3" fill="#fff" stroke="#000" stroke-width="0.9"/>
<line x1="344.10" y1="327.00" x2="344.10" y2="330.50" stroke="#000" stroke-width="1.4"/>
<text transform="translate(344.10 282.10) scale(1 1.08)" font-size="7.3" text-anchor="middle" fill="#000">0.60</text>
<text transform="translate(346.70 266.30) rotate(-90) scale(1 1.08)" font-size="7.3" text-anchor="start" fill="#000"><tspan font-style="italic">p</tspan>=0.0015</text>
<text transform="translate(345.90 337.50) rotate(-45) scale(1 1.08)" font-size="7.7" text-anchor="end" fill="#000">Δ<tspan font-style="italic">dspII</tspan>(EV)</text>
<rect x="353.70" y="286.19" width="15.20" height="40.81" fill="#9dc9f5" stroke="#111" stroke-width="1.3"/>
<line x1="361.30" y1="284.48" x2="361.30" y2="287.90" stroke="#000" stroke-width="1.0"/>
<line x1="357.80" y1="284.48" x2="364.80" y2="284.48" stroke="#000" stroke-width="1.0"/>
<line x1="357.80" y1="287.90" x2="364.80" y2="287.90" stroke="#000" stroke-width="1.0"/>
<line x1="357.30" y1="286.19" x2="365.30" y2="286.19" stroke="#000" stroke-width="1.0"/>
<circle cx="358.80" cy="283.62" r="1.3" fill="#fff" stroke="#000" stroke-width="0.9"/>
<circle cx="361.30" cy="287.10" r="1.3" fill="#fff" stroke="#000" stroke-width="0.9"/>
<circle cx="363.80" cy="287.78" r="1.3" fill="#fff" stroke="#000" stroke-width="0.9"/>
<line x1="361.30" y1="327.00" x2="361.30" y2="330.50" stroke="#000" stroke-width="1.4"/>
<text transform="translate(361.30 279.40) scale(1 1.08)" font-size="7.3" text-anchor="middle" fill="#000">0.71</text>
<text transform="translate(363.90 266.30) rotate(-90) scale(1 1.08)" font-size="7.3" text-anchor="start" fill="#000"><tspan font-style="italic">p</tspan>=0.0178</text>
<text transform="translate(363.10 337.50) rotate(-45) scale(1 1.08)" font-size="7.7" text-anchor="end" fill="#000">Δ<tspan font-style="italic">dspI</tspan>(EV)</text>
<rect x="371.00" y="267.21" width="15.20" height="59.79" fill="#9dc9f5" stroke="#111" stroke-width="1.3"/>
<line x1="378.60" y1="262.08" x2="378.60" y2="272.34" stroke="#000" stroke-width="1.0"/>
<line x1="375.10" y1="262.08" x2="382.10" y2="262.08" stroke="#000" stroke-width="1.0"/>
<line x1="375.10" y1="272.34" x2="382.10" y2="272.34" stroke="#000" stroke-width="1.0"/>
<line x1="374.60" y1="267.21" x2="382.60" y2="267.21" stroke="#000" stroke-width="1.0"/>
<circle cx="378.60" cy="258.20" r="1.3" fill="#fff" stroke="#000" stroke-width="0.9"/>
<circle cx="378.60" cy="267.72" r="1.3" fill="#fff" stroke="#000" stroke-width="0.9"/>
<circle cx="378.60" cy="274.10" r="1.3" fill="#fff" stroke="#000" stroke-width="0.9"/>
<line x1="378.60" y1="327.00" x2="378.60" y2="330.50" stroke="#000" stroke-width="1.4"/>
<text transform="translate(378.60 253.50) scale(1 1.08)" font-size="7.3" text-anchor="middle" fill="#000">1.05</text>
<text transform="translate(381.20 233.50) rotate(-90) scale(1 1.08)" font-size="7.3" text-anchor="start" fill="#000"><tspan font-style="italic">p</tspan>=0.9989</text>
<text transform="translate(380.40 337.50) rotate(-45) scale(1 1.08)" font-size="7.7" text-anchor="end" fill="#000">Δ<tspan font-style="italic">dspII</tspan>(<tspan font-style="italic">dspII</tspan>)</text>
<rect x="388.20" y="264.41" width="15.20" height="62.59" fill="#9dc9f5" stroke="#111" stroke-width="1.3"/>
<line x1="395.80" y1="262.99" x2="395.80" y2="265.84" stroke="#000" stroke-width="1.0"/>
<line x1="392.30" y1="262.99" x2="399.30" y2="262.99" stroke="#000" stroke-width="1.0"/>
<line x1="392.30" y1="265.84" x2="399.30" y2="265.84" stroke="#000" stroke-width="1.0"/>
<line x1="391.80" y1="264.41" x2="399.80" y2="264.41" stroke="#000" stroke-width="1.0"/>
<circle cx="392.80" cy="263.73" r="1.3" fill="#fff" stroke="#000" stroke-width="0.9"/>
<circle cx="395.80" cy="264.87" r="1.3" fill="#fff" stroke="#000" stroke-width="0.9"/>
<circle cx="398.80" cy="264.87" r="1.3" fill="#fff" stroke="#000" stroke-width="0.9"/>
<line x1="395.80" y1="327.00" x2="395.80" y2="330.50" stroke="#000" stroke-width="1.4"/>
<text transform="translate(395.80 256.20) scale(1 1.08)" font-size="7.3" text-anchor="middle" fill="#000">1.10</text>
<text transform="translate(398.40 233.50) rotate(-90) scale(1 1.08)" font-size="7.3" text-anchor="start" fill="#000"><tspan font-style="italic">p</tspan>=0.9002</text>
<text transform="translate(397.60 337.50) rotate(-45) scale(1 1.08)" font-size="7.7" text-anchor="end" fill="#000">Δ<tspan font-style="italic">dspI</tspan>(<tspan font-style="italic">dspI</tspan>)</text>
<rect x="413.10" y="272.22" width="15.20" height="54.78" fill="#4aa6b1" stroke="#111" stroke-width="1.3"/>
<line x1="420.70" y1="266.52" x2="420.70" y2="277.92" stroke="#000" stroke-width="1.0"/>
<line x1="417.20" y1="266.52" x2="424.20" y2="266.52" stroke="#000" stroke-width="1.0"/>
<line x1="417.20" y1="277.92" x2="424.20" y2="277.92" stroke="#000" stroke-width="1.0"/>
<line x1="416.70" y1="272.22" x2="424.70" y2="272.22" stroke="#000" stroke-width="1.0"/>
<circle cx="420.70" cy="262.19" r="1.3" fill="#fff" stroke="#000" stroke-width="0.9"/>
<circle cx="420.70" cy="269.49" r="1.3" fill="#fff" stroke="#000" stroke-width="0.9"/>
<circle cx="420.70" cy="282.03" r="1.3" fill="#fff" stroke="#000" stroke-width="0.9"/>
<line x1="420.70" y1="327.00" x2="420.70" y2="330.50" stroke="#000" stroke-width="1.4"/>
<text transform="translate(420.70 257.60) scale(1 1.08)" font-size="7.3" text-anchor="middle" fill="#000">1.0</text>
<text transform="translate(422.50 337.50) rotate(-45) scale(1 1.08)" font-size="7.7" text-anchor="end" fill="#000">WT(EV)</text>
<rect x="430.20" y="292.12" width="15.20" height="34.88" fill="#4aa6b1" stroke="#111" stroke-width="1.3"/>
<line x1="437.80" y1="287.56" x2="437.80" y2="296.68" stroke="#000" stroke-width="1.0"/>
<line x1="434.30" y1="287.56" x2="441.30" y2="287.56" stroke="#000" stroke-width="1.0"/>
<line x1="434.30" y1="296.68" x2="441.30" y2="296.68" stroke="#000" stroke-width="1.0"/>
<line x1="433.80" y1="292.12" x2="441.80" y2="292.12" stroke="#000" stroke-width="1.0"/>
<circle cx="433.30" cy="286.70" r="1.3" fill="#fff" stroke="#000" stroke-width="0.9"/>
<circle cx="442.30" cy="286.70" r="1.3" fill="#fff" stroke="#000" stroke-width="0.9"/>
<circle cx="437.80" cy="299.13" r="1.3" fill="#fff" stroke="#000" stroke-width="0.9"/>
<line x1="437.80" y1="327.00" x2="437.80" y2="330.50" stroke="#000" stroke-width="1.4"/>
<text transform="translate(437.80 282.10) scale(1 1.08)" font-size="7.3" text-anchor="middle" fill="#000">0.62</text>
<text transform="translate(440.40 266.30) rotate(-90) scale(1 1.08)" font-size="7.3" text-anchor="start" fill="#000"><tspan font-style="italic">p</tspan>=0.0091</text>
<text transform="translate(439.60 337.50) rotate(-45) scale(1 1.08)" font-size="7.7" text-anchor="end" fill="#000">Δ<tspan font-style="italic">dspII</tspan>(EV)</text>
<rect x="447.30" y="291.32" width="15.20" height="35.68" fill="#4aa6b1" stroke="#111" stroke-width="1.3"/>
<line x1="454.90" y1="289.32" x2="454.90" y2="293.31" stroke="#000" stroke-width="1.0"/>
<line x1="451.40" y1="289.32" x2="458.40" y2="289.32" stroke="#000" stroke-width="1.0"/>
<line x1="451.40" y1="293.31" x2="458.40" y2="293.31" stroke="#000" stroke-width="1.0"/>
<line x1="450.90" y1="291.32" x2="458.90" y2="291.32" stroke="#000" stroke-width="1.0"/>
<circle cx="450.40" cy="289.49" r="1.3" fill="#fff" stroke="#000" stroke-width="0.9"/>
<circle cx="459.40" cy="289.49" r="1.3" fill="#fff" stroke="#000" stroke-width="0.9"/>
<circle cx="454.90" cy="294.40" r="1.3" fill="#fff" stroke="#000" stroke-width="0.9"/>
<line x1="454.90" y1="327.00" x2="454.90" y2="330.50" stroke="#000" stroke-width="1.4"/>
<text transform="translate(454.90 284.30) scale(1 1.08)" font-size="7.3" text-anchor="middle" fill="#000">0.62</text>
<text transform="translate(457.50 266.30) rotate(-90) scale(1 1.08)" font-size="7.3" text-anchor="start" fill="#000"><tspan font-style="italic">p</tspan>=0.0106</text>
<text transform="translate(456.70 337.50) rotate(-45) scale(1 1.08)" font-size="7.7" text-anchor="end" fill="#000">Δ<tspan font-style="italic">dspI</tspan>(EV)</text>
<rect x="464.60" y="266.41" width="15.20" height="60.59" fill="#4aa6b1" stroke="#111" stroke-width="1.3"/>
<line x1="472.20" y1="260.71" x2="472.20" y2="272.11" stroke="#000" stroke-width="1.0"/>
<line x1="468.70" y1="260.71" x2="475.70" y2="260.71" stroke="#000" stroke-width="1.0"/>
<line x1="468.70" y1="272.11" x2="475.70" y2="272.11" stroke="#000" stroke-width="1.0"/>
<line x1="468.20" y1="266.41" x2="476.20" y2="266.41" stroke="#000" stroke-width="1.0"/>
<circle cx="472.20" cy="255.58" r="1.3" fill="#fff" stroke="#000" stroke-width="0.9"/>
<circle cx="472.20" cy="269.49" r="1.3" fill="#fff" stroke="#000" stroke-width="0.9"/>
<circle cx="472.20" cy="272.68" r="1.3" fill="#fff" stroke="#000" stroke-width="0.9"/>
<line x1="472.20" y1="327.00" x2="472.20" y2="330.50" stroke="#000" stroke-width="1.4"/>
<text transform="translate(472.20 249.40) scale(1 1.08)" font-size="7.3" text-anchor="middle" fill="#000">1.06</text>
<text transform="translate(474.80 233.50) rotate(-90) scale(1 1.08)" font-size="7.3" text-anchor="start" fill="#000"><tspan font-style="italic">p</tspan>=0.7238</text>
<text transform="translate(474.00 337.50) rotate(-45) scale(1 1.08)" font-size="7.7" text-anchor="end" fill="#000">Δ<tspan font-style="italic">dspII</tspan>(<tspan font-style="italic">dspII</tspan>)</text>
<rect x="481.80" y="261.79" width="15.20" height="65.21" fill="#4aa6b1" stroke="#111" stroke-width="1.3"/>
<line x1="489.40" y1="255.24" x2="489.40" y2="268.35" stroke="#000" stroke-width="1.0"/>
<line x1="485.90" y1="255.24" x2="492.90" y2="255.24" stroke="#000" stroke-width="1.0"/>
<line x1="485.90" y1="268.35" x2="492.90" y2="268.35" stroke="#000" stroke-width="1.0"/>
<line x1="485.40" y1="261.79" x2="493.40" y2="261.79" stroke="#000" stroke-width="1.0"/>
<circle cx="489.40" cy="250.11" r="1.3" fill="#fff" stroke="#000" stroke-width="0.9"/>
<circle cx="489.40" cy="262.59" r="1.3" fill="#fff" stroke="#000" stroke-width="0.9"/>
<circle cx="489.40" cy="271.14" r="1.3" fill="#fff" stroke="#000" stroke-width="0.9"/>
<line x1="489.40" y1="327.00" x2="489.40" y2="330.50" stroke="#000" stroke-width="1.4"/>
<text transform="translate(489.40 246.70) scale(1 1.08)" font-size="7.3" text-anchor="middle" fill="#000">1.15</text>
<text transform="translate(492.00 233.50) rotate(-90) scale(1 1.08)" font-size="7.3" text-anchor="start" fill="#000"><tspan font-style="italic">p</tspan>=0.2410</text>
<text transform="translate(491.20 337.50) rotate(-45) scale(1 1.08)" font-size="7.7" text-anchor="end" fill="#000">Δ<tspan font-style="italic">dspI</tspan>(<tspan font-style="italic">dspI</tspan>)</text>
<text transform="translate(605.30 14.60) scale(1 1.13)" font-size="17.2" text-anchor="start" fill="#000">F</text>
<rect x="620.6" y="15.10" width="40.2" height="28.4" fill="#c6c6c6"/>
<circle cx="630.12" cy="30.34" r="0.38" fill="rgb(132,132,132)"/>
<circle cx="645.63" cy="16.93" r="0.25" fill="rgb(148,148,148)"/>
<circle cx="630.97" cy="21.66" r="0.60" fill="rgb(122,122,122)"/>
<circle cx="654.06" cy="28.44" r="0.47" fill="rgb(100,100,100)"/>
<circle cx="645.99" cy="39.41" r="0.43" fill="rgb(141,141,141)"/>
<circle cx="647.46" cy="16.89" r="0.52" fill="rgb(131,131,131)"/>
<circle cx="632.65" cy="15.97" r="0.55" fill="rgb(123,123,123)"/>
<circle cx="649.35" cy="39.71" r="0.50" fill="rgb(154,154,154)"/>
<circle cx="636.40" cy="37.53" r="0.41" fill="rgb(155,155,155)"/>
<circle cx="655.75" cy="17.83" r="0.30" fill="rgb(105,105,105)"/>
<circle cx="659.22" cy="27.31" r="0.47" fill="rgb(111,111,111)"/>
<circle cx="640.89" cy="25.90" r="0.37" fill="rgb(130,130,130)"/>
<circle cx="643.97" cy="40.42" r="0.49" fill="rgb(155,155,155)"/>
<circle cx="654.86" cy="42.85" r="0.48" fill="rgb(101,101,101)"/>
<path d="M640,23 C641,28 637,31 638,35 C639,38 636,40 634,39" fill="none" stroke="#6a6a6a" stroke-width="0.45"/>
<ellipse cx="636.9" cy="21.2" rx="3.4" ry="2.3" transform="rotate(40 636.9 21.2)" fill="#080808"/>
<line x1="643.40" y1="24.30" x2="643.40" y2="39.50" stroke="#e8504a" stroke-width="0.9"/>
<line x1="645.00" y1="24.30" x2="641.80" y2="24.30" stroke="#e8504a" stroke-width="0.9"/>
<line x1="645.00" y1="39.50" x2="641.80" y2="39.50" stroke="#e8504a" stroke-width="0.9"/>
<rect x="621.6" y="41.90" width="8.1" height="1.2" fill="#000"/>
<text transform="translate(621.50 39.30) scale(1 1.08)" font-size="5.6" text-anchor="start" fill="#111">2 μm</text>
<text transform="translate(663.30 28.70) scale(1 1.08)" font-size="6.5" text-anchor="start" fill="#000">WT</text>
<text transform="translate(663.30 37.00) scale(1 1.08)" font-size="6.5" text-anchor="start" fill="#000">(EV)</text>
<rect x="620.6" y="47.50" width="40.2" height="28.4" fill="#c6c6c6"/>
<circle cx="643.46" cy="59.51" r="0.45" fill="rgb(104,104,104)"/>
<circle cx="653.13" cy="70.56" r="0.48" fill="rgb(101,101,101)"/>
<circle cx="641.43" cy="56.68" r="0.34" fill="rgb(156,156,156)"/>
<circle cx="660.46" cy="48.75" r="0.55" fill="rgb(132,132,132)"/>
<circle cx="635.86" cy="55.44" r="0.49" fill="rgb(121,121,121)"/>
<circle cx="648.03" cy="66.03" r="0.30" fill="rgb(143,143,143)"/>
<circle cx="659.90" cy="74.64" r="0.46" fill="rgb(93,93,93)"/>
<circle cx="620.76" cy="51.25" r="0.58" fill="rgb(111,111,111)"/>
<circle cx="635.25" cy="72.65" r="0.36" fill="rgb(128,128,128)"/>
<circle cx="638.04" cy="49.32" r="0.45" fill="rgb(149,149,149)"/>
<circle cx="626.86" cy="53.78" r="0.39" fill="rgb(92,92,92)"/>
<circle cx="640.46" cy="70.40" r="0.48" fill="rgb(127,127,127)"/>
<circle cx="654.81" cy="51.69" r="0.45" fill="rgb(116,116,116)"/>
<circle cx="644.65" cy="50.66" r="0.52" fill="rgb(96,96,96)"/>
<path d="M640,58 C641,61 640,64 637,66" fill="none" stroke="#6a6a6a" stroke-width="0.45"/>
<ellipse cx="638.8" cy="56" rx="2.0" ry="2.7" transform="rotate(20 638.8 56)" fill="#080808"/>
<line x1="634.70" y1="60.20" x2="639.10" y2="67.20" stroke="#e8504a" stroke-width="0.9"/>
<line x1="636.05" y1="59.35" x2="633.35" y2="61.05" stroke="#e8504a" stroke-width="0.9"/>
<line x1="640.45" y1="66.35" x2="637.75" y2="68.05" stroke="#e8504a" stroke-width="0.9"/>
<rect x="621.6" y="74.30" width="8.1" height="1.2" fill="#000"/>
<text transform="translate(621.50 71.70) scale(1 1.08)" font-size="5.6" text-anchor="start" fill="#111">2 μm</text>
<text transform="translate(663.30 61.10) scale(1 1.08)" font-size="6.5" text-anchor="start" fill="#000">Δ<tspan font-style="italic">dspII</tspan></text>
<text transform="translate(663.30 69.40) scale(1 1.08)" font-size="6.5" text-anchor="start" fill="#000">(EV)</text>
<rect x="620.6" y="80.10" width="40.2" height="28.4" fill="#c6c6c6"/>
<circle cx="641.48" cy="102.69" r="0.59" fill="rgb(110,110,110)"/>
<circle cx="651.24" cy="99.82" r="0.48" fill="rgb(97,97,97)"/>
<circle cx="621.68" cy="90.86" r="0.51" fill="rgb(107,107,107)"/>
<circle cx="640.66" cy="88.99" r="0.55" fill="rgb(156,156,156)"/>
<circle cx="636.66" cy="108.06" r="0.27" fill="rgb(146,146,146)"/>
<circle cx="655.61" cy="84.33" r="0.50" fill="rgb(129,129,129)"/>
<circle cx="658.81" cy="85.98" r="0.44" fill="rgb(151,151,151)"/>
<circle cx="646.15" cy="88.76" r="0.28" fill="rgb(155,155,155)"/>
<circle cx="639.56" cy="108.00" r="0.30" fill="rgb(146,146,146)"/>
<circle cx="653.14" cy="105.86" r="0.26" fill="rgb(116,116,116)"/>
<circle cx="622.67" cy="101.16" r="0.37" fill="rgb(157,157,157)"/>
<circle cx="635.59" cy="101.78" r="0.55" fill="rgb(106,106,106)"/>
<circle cx="642.87" cy="106.91" r="0.43" fill="rgb(115,115,115)"/>
<circle cx="631.29" cy="102.12" r="0.32" fill="rgb(132,132,132)"/>
<path d="M645,94 C642,88 636,87 633,90 C631,92 628,90 626,89" fill="none" stroke="#6a6a6a" stroke-width="0.45"/>
<ellipse cx="645.6" cy="96.5" rx="3.6" ry="2.5" transform="rotate(25 645.6 96.5)" fill="#080808"/>
<line x1="626.50" y1="92.40" x2="640.00" y2="100.00" stroke="#e8504a" stroke-width="0.9"/>
<line x1="627.28" y1="91.01" x2="625.72" y2="93.79" stroke="#e8504a" stroke-width="0.9"/>
<line x1="640.78" y1="98.61" x2="639.22" y2="101.39" stroke="#e8504a" stroke-width="0.9"/>
<rect x="621.6" y="106.90" width="8.1" height="1.2" fill="#000"/>
<text transform="translate(621.50 104.30) scale(1 1.08)" font-size="5.6" text-anchor="start" fill="#111">2 μm</text>
<text transform="translate(663.30 93.70) scale(1 1.08)" font-size="6.5" text-anchor="start" fill="#000">Δ<tspan font-style="italic">dspII</tspan></text>
<text transform="translate(663.30 102.00) scale(1 1.08)" font-size="6.5" text-anchor="start" fill="#000">(<tspan font-style="italic">dspII</tspan>)</text>
<rect x="620.6" y="112.60" width="40.2" height="28.4" fill="#c6c6c6"/>
<circle cx="649.09" cy="136.11" r="0.31" fill="rgb(159,159,159)"/>
<circle cx="628.36" cy="131.38" r="0.28" fill="rgb(143,143,143)"/>
<circle cx="626.65" cy="132.38" r="0.50" fill="rgb(143,143,143)"/>
<circle cx="638.26" cy="136.84" r="0.60" fill="rgb(98,98,98)"/>
<circle cx="641.28" cy="139.43" r="0.51" fill="rgb(121,121,121)"/>
<circle cx="632.78" cy="139.28" r="0.28" fill="rgb(143,143,143)"/>
<circle cx="654.33" cy="117.02" r="0.36" fill="rgb(111,111,111)"/>
<circle cx="642.28" cy="122.88" r="0.56" fill="rgb(154,154,154)"/>
<circle cx="633.25" cy="137.65" r="0.27" fill="rgb(96,96,96)"/>
<circle cx="647.21" cy="134.97" r="0.54" fill="rgb(159,159,159)"/>
<circle cx="654.99" cy="120.06" r="0.51" fill="rgb(154,154,154)"/>
<circle cx="624.34" cy="126.44" r="0.30" fill="rgb(100,100,100)"/>
<circle cx="639.78" cy="131.37" r="0.59" fill="rgb(99,99,99)"/>
<circle cx="640.82" cy="140.53" r="0.52" fill="rgb(127,127,127)"/>
<path d="M637,122 C639,118 641,117 645,118" fill="none" stroke="#6a6a6a" stroke-width="0.45"/>
<ellipse cx="635.6" cy="125.6" rx="3.2" ry="2.3" transform="rotate(-10 635.6 125.6)" fill="#080808"/>
<line x1="640.70" y1="127.60" x2="647.00" y2="121.60" stroke="#e8504a" stroke-width="0.9"/>
<line x1="639.60" y1="126.44" x2="641.80" y2="128.76" stroke="#e8504a" stroke-width="0.9"/>
<line x1="645.90" y1="120.44" x2="648.10" y2="122.76" stroke="#e8504a" stroke-width="0.9"/>
<rect x="621.6" y="139.40" width="8.1" height="1.2" fill="#000"/>
<text transform="translate(621.50 136.80) scale(1 1.08)" font-size="5.6" text-anchor="start" fill="#111">2 μm</text>
<text transform="translate(663.30 126.20) scale(1 1.08)" font-size="6.5" text-anchor="start" fill="#000">Δ<tspan font-style="italic">dspI</tspan></text>
<text transform="translate(663.30 134.50) scale(1 1.08)" font-size="6.5" text-anchor="start" fill="#000">(EV)</text>
<rect x="620.6" y="145.20" width="40.2" height="28.4" fill="#c6c6c6"/>
<circle cx="621.09" cy="148.35" r="0.39" fill="rgb(137,137,137)"/>
<circle cx="626.15" cy="148.35" r="0.33" fill="rgb(143,143,143)"/>
<circle cx="626.50" cy="165.94" r="0.48" fill="rgb(99,99,99)"/>
<circle cx="642.03" cy="157.74" r="0.39" fill="rgb(159,159,159)"/>
<circle cx="624.32" cy="145.77" r="0.58" fill="rgb(118,118,118)"/>
<circle cx="628.54" cy="154.45" r="0.38" fill="rgb(156,156,156)"/>
<circle cx="629.01" cy="151.27" r="0.45" fill="rgb(128,128,128)"/>
<circle cx="658.75" cy="168.68" r="0.37" fill="rgb(104,104,104)"/>
<circle cx="654.06" cy="172.89" r="0.26" fill="rgb(141,141,141)"/>
<circle cx="655.33" cy="163.43" r="0.33" fill="rgb(145,145,145)"/>
<circle cx="649.79" cy="150.63" r="0.47" fill="rgb(105,105,105)"/>
<circle cx="622.26" cy="154.61" r="0.37" fill="rgb(117,117,117)"/>
<circle cx="646.47" cy="168.61" r="0.59" fill="rgb(158,158,158)"/>
<circle cx="660.34" cy="167.32" r="0.36" fill="rgb(102,102,102)"/>
<path d="M641,158 C643,161 644,165 647,168" fill="none" stroke="#6a6a6a" stroke-width="0.45"/>
<ellipse cx="639.4" cy="155.5" rx="3.0" ry="3.6" transform="rotate(-30 639.4 155.5)" fill="#080808"/>
<line x1="645.60" y1="155.50" x2="651.60" y2="165.70" stroke="#e8504a" stroke-width="0.9"/>
<line x1="646.98" y1="154.69" x2="644.22" y2="156.31" stroke="#e8504a" stroke-width="0.9"/>
<line x1="652.98" y1="164.89" x2="650.22" y2="166.51" stroke="#e8504a" stroke-width="0.9"/>
<rect x="621.6" y="172.00" width="8.1" height="1.2" fill="#000"/>
<text transform="translate(621.50 169.40) scale(1 1.08)" font-size="5.6" text-anchor="start" fill="#111">2 μm</text>
<text transform="translate(663.30 158.80) scale(1 1.08)" font-size="6.5" text-anchor="start" fill="#000">Δ<tspan font-style="italic">dspI</tspan></text>
<text transform="translate(663.30 167.10) scale(1 1.08)" font-size="6.5" text-anchor="start" fill="#000">(<tspan font-style="italic">dspI</tspan>)</text>
<line x1="563.40" y1="328.90" x2="563.40" y2="216.90" stroke="#000" stroke-width="1.4"/>
<line x1="562.80" y1="328.30" x2="679.30" y2="328.30" stroke="#000" stroke-width="1.4"/>
<line x1="560.40" y1="328.30" x2="563.40" y2="328.30" stroke="#000" stroke-width="1.4"/>
<text transform="translate(559.10 331.10) scale(1 1.08)" font-size="7.7" text-anchor="end" fill="#000">0</text>
<line x1="560.40" y1="300.60" x2="563.40" y2="300.60" stroke="#000" stroke-width="1.4"/>
<text transform="translate(559.10 303.40) scale(1 1.08)" font-size="7.7" text-anchor="end" fill="#000">2</text>
<line x1="560.40" y1="272.90" x2="563.40" y2="272.90" stroke="#000" stroke-width="1.4"/>
<text transform="translate(559.10 275.70) scale(1 1.08)" font-size="7.7" text-anchor="end" fill="#000">4</text>
<line x1="560.40" y1="245.20" x2="563.40" y2="245.20" stroke="#000" stroke-width="1.4"/>
<text transform="translate(559.10 248.00) scale(1 1.08)" font-size="7.7" text-anchor="end" fill="#000">6</text>
<line x1="560.40" y1="217.50" x2="563.40" y2="217.50" stroke="#000" stroke-width="1.4"/>
<text transform="translate(559.10 220.30) scale(1 1.08)" font-size="7.7" text-anchor="end" fill="#000">8</text>
<text transform="translate(524.30 199.80) scale(1 1.13)" font-size="16.8" text-anchor="start" fill="#000">G</text>
<text transform="translate(545.90 268.00) rotate(-90)" font-size="8.0" text-anchor="middle" fill="#000">Flagellum length (μm)</text>
<circle cx="574.90" cy="239.24" r="1.9" fill="#a3a3a3"/>
<circle cx="574.90" cy="245.75" r="1.9" fill="#a3a3a3"/>
<circle cx="570.90" cy="254.48" r="1.9" fill="#a3a3a3"/>
<circle cx="575.90" cy="255.17" r="1.9" fill="#a3a3a3"/>
<circle cx="570.90" cy="258.08" r="1.9" fill="#a3a3a3"/>
<circle cx="580.90" cy="258.08" r="1.9" fill="#a3a3a3"/>
<circle cx="574.90" cy="259.33" r="1.9" fill="#a3a3a3"/>
<circle cx="577.90" cy="259.33" r="1.9" fill="#a3a3a3"/>
<circle cx="570.90" cy="262.65" r="1.9" fill="#a3a3a3"/>
<circle cx="574.90" cy="262.93" r="1.9" fill="#a3a3a3"/>
<line x1="567.40" y1="254.20" x2="582.40" y2="254.20" stroke="#000" stroke-width="1.1"/>
<line x1="574.90" y1="252.12" x2="574.90" y2="256.28" stroke="#000" stroke-width="1.1"/>
<line x1="570.90" y1="252.12" x2="578.90" y2="252.12" stroke="#000" stroke-width="1.1"/>
<line x1="570.90" y1="256.28" x2="578.90" y2="256.28" stroke="#000" stroke-width="1.1"/>
<line x1="574.90" y1="328.30" x2="574.90" y2="331.80" stroke="#000" stroke-width="1.4"/>
<circle cx="592.10" cy="263.21" r="1.9" fill="#7fbaf2"/>
<circle cx="600.10" cy="261.13" r="1.9" fill="#7fbaf2"/>
<circle cx="605.10" cy="265.42" r="1.9" fill="#7fbaf2"/>
<circle cx="592.10" cy="267.08" r="1.9" fill="#7fbaf2"/>
<circle cx="595.10" cy="268.75" r="1.9" fill="#7fbaf2"/>
<circle cx="601.10" cy="268.75" r="1.9" fill="#7fbaf2"/>
<circle cx="605.10" cy="271.79" r="1.9" fill="#7fbaf2"/>
<circle cx="593.10" cy="272.62" r="1.9" fill="#7fbaf2"/>
<circle cx="599.10" cy="273.45" r="1.9" fill="#7fbaf2"/>
<circle cx="596.10" cy="276.64" r="1.9" fill="#7fbaf2"/>
<line x1="590.60" y1="269.02" x2="605.60" y2="269.02" stroke="#000" stroke-width="1.1"/>
<line x1="598.10" y1="267.64" x2="598.10" y2="270.41" stroke="#000" stroke-width="1.1"/>
<line x1="594.10" y1="267.64" x2="602.10" y2="267.64" stroke="#000" stroke-width="1.1"/>
<line x1="594.10" y1="270.41" x2="602.10" y2="270.41" stroke="#000" stroke-width="1.1"/>
<line x1="598.10" y1="328.30" x2="598.10" y2="331.80" stroke="#000" stroke-width="1.4"/>
<circle cx="621.40" cy="240.35" r="1.9" fill="#7fbaf2"/>
<circle cx="615.40" cy="253.09" r="1.9" fill="#7fbaf2"/>
<circle cx="620.40" cy="253.51" r="1.9" fill="#7fbaf2"/>
<circle cx="625.40" cy="254.06" r="1.9" fill="#7fbaf2"/>
<circle cx="616.40" cy="258.36" r="1.9" fill="#7fbaf2"/>
<circle cx="621.40" cy="257.67" r="1.9" fill="#7fbaf2"/>
<circle cx="626.40" cy="258.36" r="1.9" fill="#7fbaf2"/>
<circle cx="618.40" cy="262.37" r="1.9" fill="#7fbaf2"/>
<circle cx="624.40" cy="262.37" r="1.9" fill="#7fbaf2"/>
<line x1="613.90" y1="257.11" x2="628.90" y2="257.11" stroke="#000" stroke-width="1.1"/>
<line x1="621.40" y1="255.17" x2="621.40" y2="259.05" stroke="#000" stroke-width="1.1"/>
<line x1="617.40" y1="255.17" x2="625.40" y2="255.17" stroke="#000" stroke-width="1.1"/>
<line x1="617.40" y1="259.05" x2="625.40" y2="259.05" stroke="#000" stroke-width="1.1"/>
<line x1="621.40" y1="328.30" x2="621.40" y2="331.80" stroke="#000" stroke-width="1.4"/>
<circle cx="638.50" cy="261.27" r="1.9" fill="#3ba0ae"/>
<circle cx="644.50" cy="258.77" r="1.9" fill="#3ba0ae"/>
<circle cx="650.50" cy="262.37" r="1.9" fill="#3ba0ae"/>
<circle cx="638.50" cy="266.39" r="1.9" fill="#3ba0ae"/>
<circle cx="644.50" cy="264.59" r="1.9" fill="#3ba0ae"/>
<circle cx="644.50" cy="272.62" r="1.9" fill="#3ba0ae"/>
<circle cx="644.50" cy="279.55" r="1.9" fill="#3ba0ae"/>
<circle cx="644.50" cy="284.40" r="1.9" fill="#3ba0ae"/>
<circle cx="644.50" cy="290.63" r="1.9" fill="#3ba0ae"/>
<line x1="637.00" y1="269.58" x2="652.00" y2="269.58" stroke="#000" stroke-width="1.1"/>
<line x1="644.50" y1="266.11" x2="644.50" y2="273.04" stroke="#000" stroke-width="1.1"/>
<line x1="640.50" y1="266.11" x2="648.50" y2="266.11" stroke="#000" stroke-width="1.1"/>
<line x1="640.50" y1="273.04" x2="648.50" y2="273.04" stroke="#000" stroke-width="1.1"/>
<line x1="644.50" y1="328.30" x2="644.50" y2="331.80" stroke="#000" stroke-width="1.4"/>
<circle cx="667.60" cy="244.92" r="1.9" fill="#3ba0ae"/>
<circle cx="662.60" cy="252.12" r="1.9" fill="#3ba0ae"/>
<circle cx="667.60" cy="252.12" r="1.9" fill="#3ba0ae"/>
<circle cx="672.60" cy="252.12" r="1.9" fill="#3ba0ae"/>
<circle cx="662.60" cy="259.60" r="1.9" fill="#3ba0ae"/>
<circle cx="668.60" cy="260.44" r="1.9" fill="#3ba0ae"/>
<circle cx="674.60" cy="259.74" r="1.9" fill="#3ba0ae"/>
<circle cx="667.60" cy="264.31" r="1.9" fill="#3ba0ae"/>
<circle cx="664.60" cy="256.97" r="1.9" fill="#3ba0ae"/>
<circle cx="670.60" cy="256.28" r="1.9" fill="#3ba0ae"/>
<line x1="660.10" y1="256.14" x2="675.10" y2="256.14" stroke="#000" stroke-width="1.1"/>
<line x1="667.60" y1="254.34" x2="667.60" y2="257.94" stroke="#000" stroke-width="1.1"/>
<line x1="663.60" y1="254.34" x2="671.60" y2="254.34" stroke="#000" stroke-width="1.1"/>
<line x1="663.60" y1="257.94" x2="671.60" y2="257.94" stroke="#000" stroke-width="1.1"/>
<line x1="667.60" y1="328.30" x2="667.60" y2="331.80" stroke="#000" stroke-width="1.4"/>
<text transform="translate(576.70 339.00) rotate(-45) scale(1 1.08)" font-size="7.7" text-anchor="end" fill="#000">WT(EV)</text>
<text transform="translate(599.90 339.00) rotate(-45) scale(1 1.08)" font-size="7.7" text-anchor="end" fill="#000">Δ<tspan font-style="italic">dspII</tspan>(EV)</text>
<text transform="translate(623.20 339.00) rotate(-45) scale(1 1.08)" font-size="7.7" text-anchor="end" fill="#000">Δ<tspan font-style="italic">dspII</tspan>(<tspan font-style="italic">dspII</tspan>)</text>
<text transform="translate(646.30 339.00) rotate(-45) scale(1 1.08)" font-size="7.7" text-anchor="end" fill="#000">Δ<tspan font-style="italic">dspI</tspan>(EV)</text>
<text transform="translate(669.40 339.00) rotate(-45) scale(1 1.08)" font-size="7.7" text-anchor="end" fill="#000">Δ<tspan font-style="italic">dspI</tspan>(<tspan font-style="italic">dspI</tspan>)</text>
<text transform="translate(597.90 236.90) scale(1 1.08)" font-size="7.4" text-anchor="middle" fill="#000"><tspan font-style="italic">p</tspan>=0.0002</text>
<text transform="translate(622.50 221.30) scale(1 1.08)" font-size="7.4" text-anchor="middle" fill="#000"><tspan font-style="italic">p</tspan>=0.8715</text>
<text transform="translate(642.70 236.90) scale(1 1.08)" font-size="7.4" text-anchor="middle" fill="#000"><tspan font-style="italic">p</tspan>&lt;0.0001</text>
<text transform="translate(665.00 221.30) scale(1 1.08)" font-size="7.4" text-anchor="middle" fill="#000"><tspan font-style="italic">p</tspan>=0.9497</text>
</svg></body></html>
